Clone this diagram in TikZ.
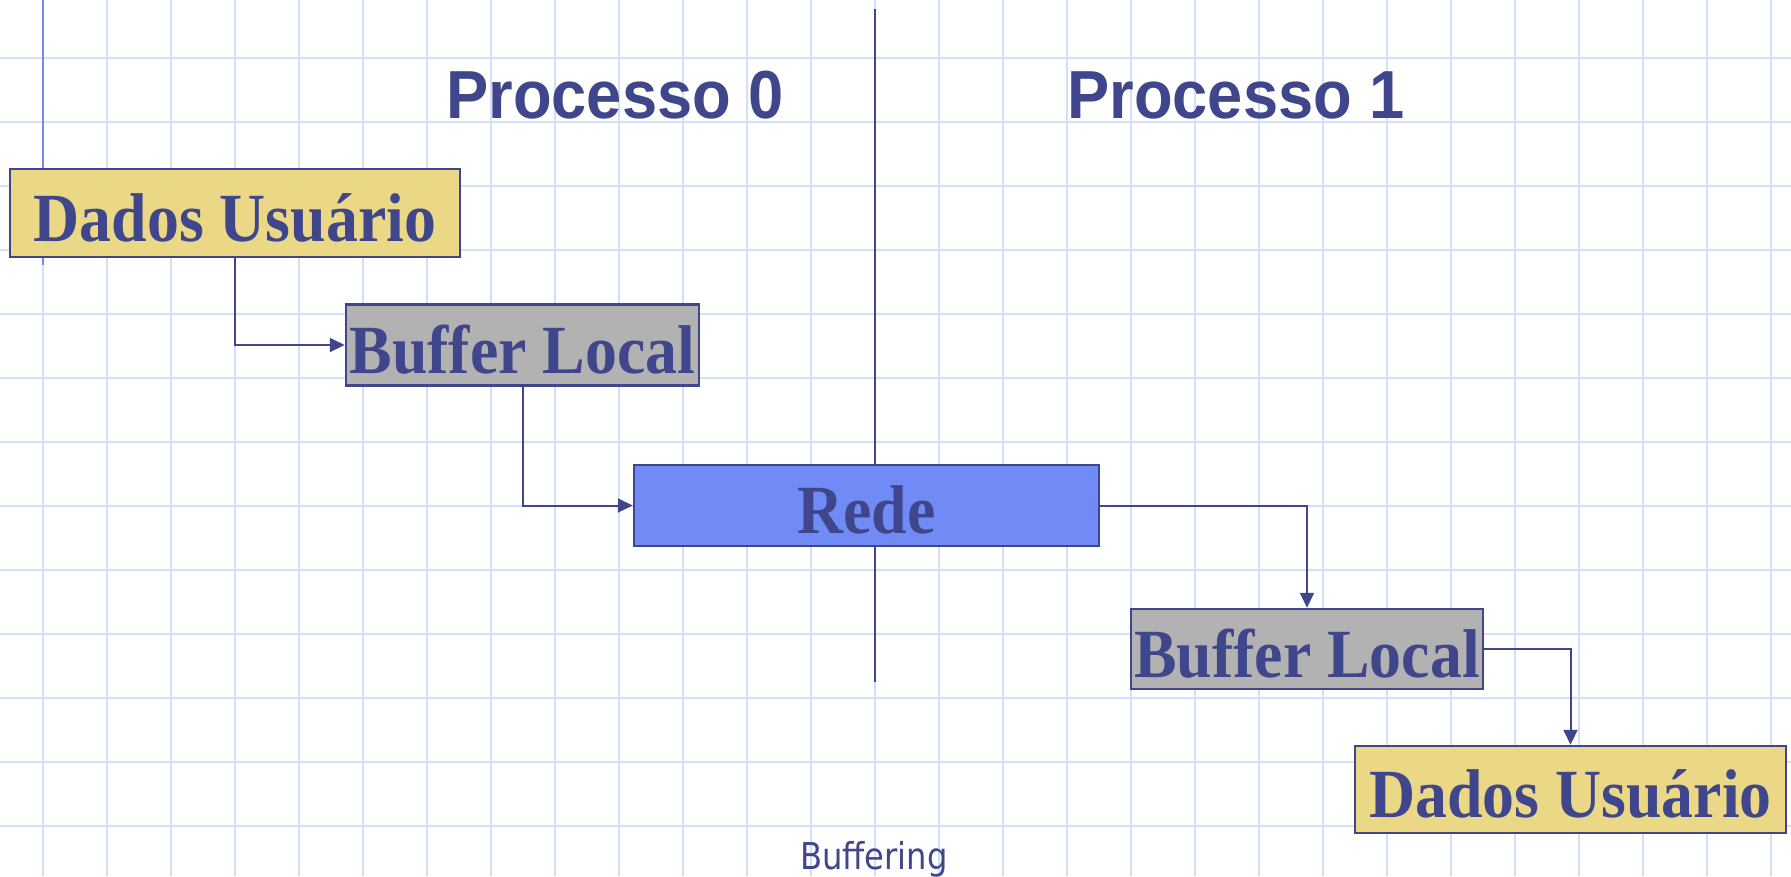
\documentclass[tikz,border=0pt]{standalone}
\usepackage{fontspec}
\usetikzlibrary{arrows.meta}
\newfontfamily\boxfont[FakeStretch=0.925]{Liberation Serif}
\newfontfamily\headfont[FakeStretch=0.93]{Liberation Sans}
\newfontfamily\captionfont[FakeStretch=0.87]{DejaVu Sans}
\definecolor{navy}{RGB}{64,70,140}
\definecolor{gridblue}{RGB}{210,222,252}
\definecolor{lineblue}{RGB}{112,139,245}
\definecolor{userfill}{RGB}{235,216,134}
\definecolor{bufferfill}{RGB}{178,178,178}
\definecolor{netfill}{RGB}{112,139,245}
\tikzset{
  blockbox/.style={draw=navy, line width=2.5pt, inner sep=0pt, text=navy,
    font=\boxfont\bfseries\fontsize{69}{69}\selectfont,
    text height=56pt, text depth=0pt},
  userbox/.style={blockbox, fill=userfill},
  bufbox/.style={blockbox, fill=bufferfill},
  netbox/.style={blockbox, fill=netfill},
  flow/.style={draw=navy, line width=2pt, -{Triangle[length=15pt,width=14pt]}},
  heading/.style={text=navy, anchor=base, inner sep=0pt,
    font=\headfont\bfseries\fontsize{68}{68}\selectfont},
}
\begin{document}
\begin{tikzpicture}[x=1pt,y=-1pt]
\useasboundingbox (0,0) rectangle (1791,876);
\fill[white] (0,0) rectangle (1791,876);

% squared paper
\foreach \i in {0,...,27} \draw[gridblue, line width=2pt] (43+64*\i,0) -- (43+64*\i,876);
\foreach \j in {0,...,12} \draw[gridblue, line width=2pt] (0,58+64*\j) -- (1791,58+64*\j);

% margin line and the divider between the two processes
\draw[lineblue, line width=2pt] (43,0) -- (43,265);
\coordinate (divtop) at (875,9);
\coordinate (divbot) at (875,682);
\draw[navy, line width=2pt] (divtop) -- (divbot);

% headings
\node[heading] (p0) at (615,118) {Processo 0};
\node[heading] (p1) at (1236,118) {Processo 1};

% blocks
\node[userbox, minimum width=450pt, minimum height=88pt] (dados0) at (235,213) {Dados Usuário};
\node[bufbox, minimum width=353pt, minimum height=81pt] (buf0) at (522.5,345) {Buffer Local};
\node[netbox, minimum width=465pt, minimum height=81pt] (rede) at (866.5,505.5) {Rede};
\node[bufbox, minimum width=352pt, minimum height=80pt] (buf1) at (1307,649) {Buffer Local};
\node[userbox, minimum width=431pt, minimum height=87pt] (dados1) at (1570.5,789.5) {Dados Usuário};

% data path
\draw[flow] (dados0.south) |- (buf0.west);
\draw[flow] (buf0.south) |- (rede.west);
\draw[flow] (rede.east) -| (buf1.north);
\draw[flow] (buf1.east) -| (dados1.north);

% caption
\node[text=navy, anchor=base, inner sep=0pt,
  font=\captionfont\fontsize{37}{37}\selectfont] (caption) at (874,869) {Buffering};
\end{tikzpicture}
\end{document}
